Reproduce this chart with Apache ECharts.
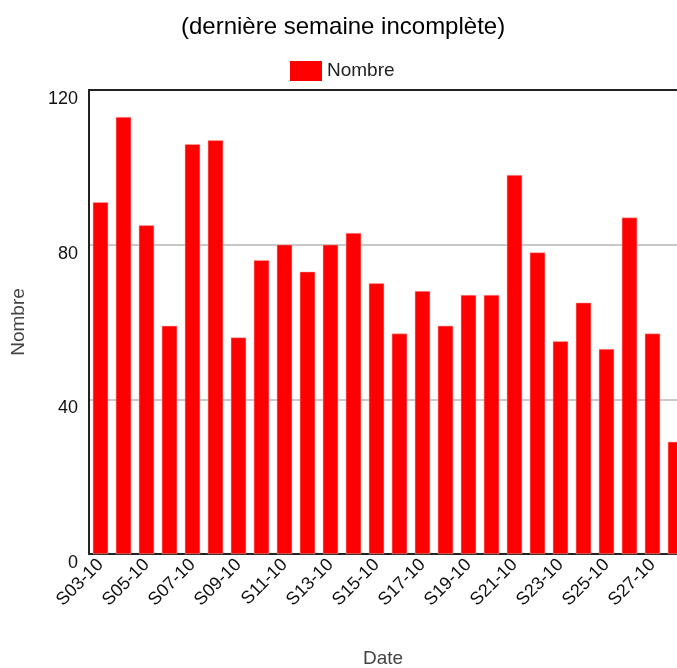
<!DOCTYPE html>
<html>
<head>
<meta charset="utf-8">
<style>
  html, body { margin: 0; padding: 0; background: #fff; }
  #chart { width: 677px; height: 668px; }
</style>
<script src="https://cdn.jsdelivr.net/npm/echarts@6/dist/echarts.min.js"></script>
</head>
<body>
<div id="chart"></div>
<script>
// semaines (S03-10 .. S28-10)
var weeks = ["S03-10", "S04-10", "S05-10", "S06-10", "S07-10", "S08-10", "S09-10",
  "S10-10", "S11-10", "S12-10", "S13-10", "S14-10", "S15-10", "S16-10", "S17-10",
  "S18-10", "S19-10", "S20-10", "S21-10", "S22-10", "S23-10", "S24-10", "S25-10",
  "S26-10", "S27-10", "S28-10"];
var nombre = [91, 113, 85, 59, 106, 107, 56, 76, 80, 73, 80, 83, 70, 57, 68, 59,
  67, 67, 98, 78, 55, 65, 53, 87, 57, 29];
var yTicks = [0, 40, 80, 120];

var myChart = echarts.init(document.getElementById("chart"));
myChart.setOption({
  animation: false,
  textStyle: { fontFamily: "'Liberation Sans', Arial, sans-serif" },
  title: {
    text: "(dernière semaine incomplète)",
    left: 176,
    top: 10,
    textStyle: { fontSize: 24, fontWeight: "normal", color: "#000" }
  },
  legend: {
    data: ["Nombre"],
    top: 56,
    left: 285,
    icon: "rect",
    itemWidth: 32,
    itemHeight: 20,
    itemGap: 8,
    itemStyle: { borderWidth: 0 },
    textStyle: { fontSize: 19, color: "#222" }
  },
  grid: {
    left: 89,
    width: 598,
    top: 90,
    bottom: 114,
    outerBoundsMode: "none",
    containLabel: false
  },
  xAxis: [
    {
      type: "category",
      data: weeks,
      name: "Date",
      nameLocation: "middle",
      nameGap: 95,
      nameTextStyle: { fontSize: 19, color: "#444", padding: [0, 10, 0, 0] },
      axisLine: { lineStyle: { color: "#222", width: 2 } },
      axisTick: { alignWithLabel: true, interval: 1, length: 5, lineStyle: { color: "#222" } },
      axisLabel: {
        interval: 1,
        rotate: 45,
        fontSize: 18,
        color: "#111",
        margin: 8
      }
    },
    {
      // trait du haut du cadre
      type: "category",
      data: weeks,
      position: "top",
      axisLine: { lineStyle: { color: "#222", width: 2 } },
      axisTick: { show: false },
      axisLabel: { show: false }
    }
  ],
  yAxis: {
    type: "value",
    min: yTicks[0],
    max: yTicks[yTicks.length - 1],
    interval: 40,
    name: "Nombre",
    nameLocation: "middle",
    nameGap: 61,
    nameTextStyle: { fontSize: 19, color: "#444" },
    axisLine: { show: true, lineStyle: { color: "#222", width: 2 } },
    axisTick: { show: false },
    axisLabel: { fontSize: 18, color: "#111", margin: 11, verticalAlign: "top" },
    splitLine: { lineStyle: { color: "#c8c8c8", width: 2 } }
  },
  series: [
    {
      name: "Nombre",
      type: "bar",
      data: nombre,
      barCategoryGap: "33%",
      itemStyle: { color: "#ff0000", borderColor: "#ffb0b0", borderWidth: 0.5 }
    }
  ]
});
</script>
</body>
</html>
